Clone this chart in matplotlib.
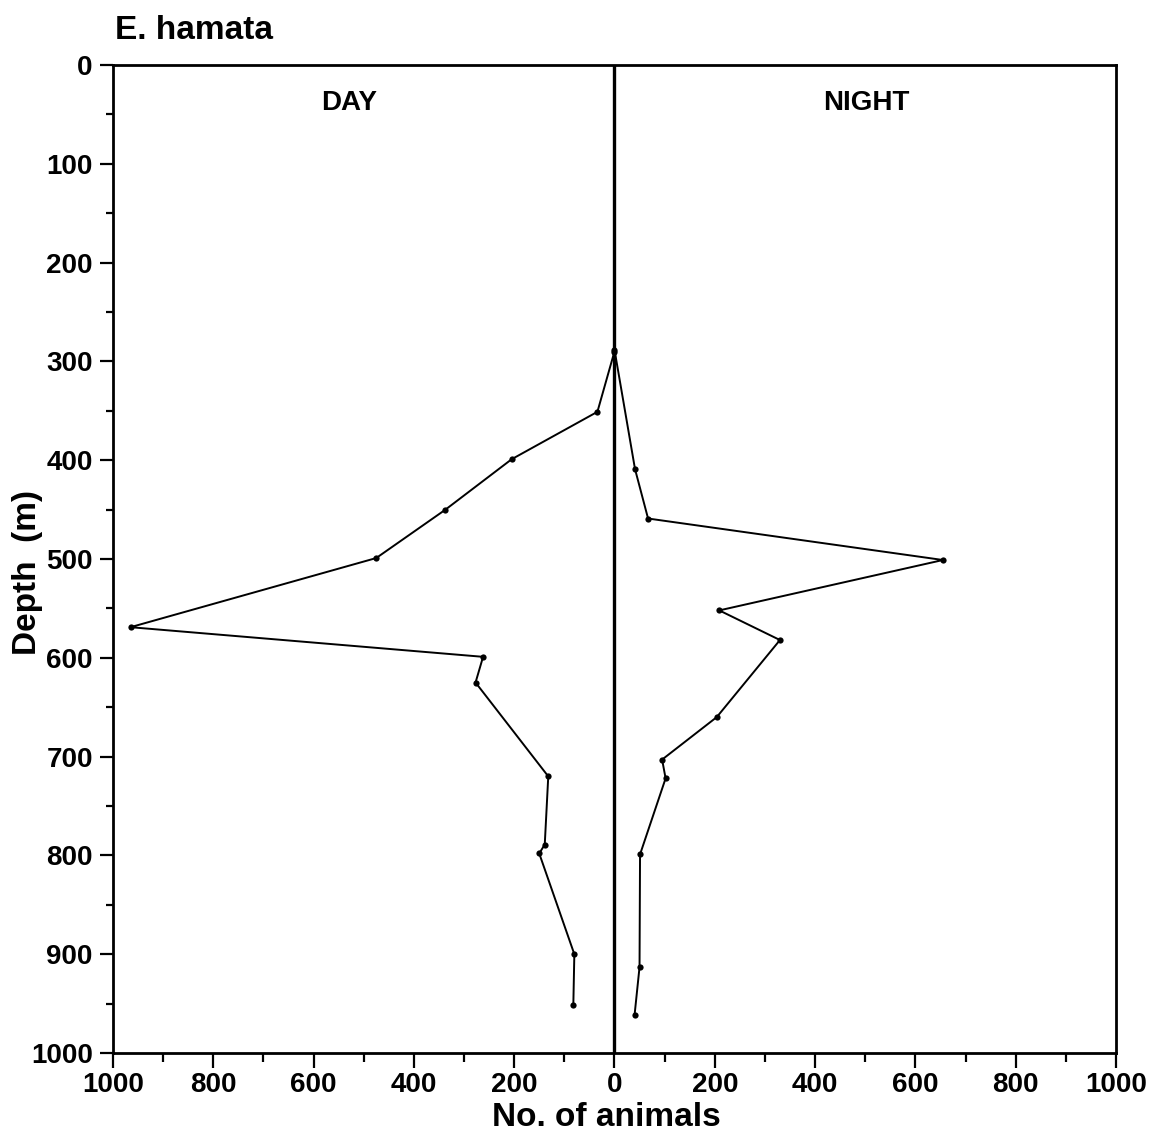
#!/usr/bin/env python3
# -*- coding: utf-8 -*-

import matplotlib
matplotlib.use('Agg')
import matplotlib.pyplot as plt
from matplotlib.ticker import MultipleLocator, FuncFormatter

# values (number of animals, depth in m)
day_count = [0, 34, 205, 337, 475, 965, 262, 277, 132, 139, 150, 80, 82]
day_depth = [290, 351, 399, 450, 499, 569, 599, 625, 720, 789, 798, 900, 951]
night_count = [0, 41, 67, 655, 209, 330, 204, 95, 102, 51, 50, 40]
night_depth = [288, 409, 459, 501, 552, 582, 660, 703, 722, 799, 913, 962]

species = 'E. hamata'
panel_names = ['DAY', 'NIGHT']
label_font = ['Liberation Sans', 'DejaVu Sans']


def abs_label(v, pos):
    return '{0}'.format(int(round(abs(v))))


def plot_profile(ax, counts, depths):
    ax.plot(counts, depths, color='k', linewidth=1.4,
            marker='o', markersize=4.5, markeredgewidth=0)


if __name__ == '__main__':
    fig = plt.figure(figsize=(11.55, 11.39), dpi=100)
    ax = fig.add_axes([0.0978, 0.0755, 0.8684, 0.8674])

    # day is drawn to the left of zero
    plot_profile(ax, [-c for c in day_count], day_depth)
    plot_profile(ax, night_count, night_depth)
    ax.axvline(0, color='k', linewidth=2.4, zorder=1)

    ax.set_xlim(-1000, 1000)
    ax.set_ylim(1000, 0)
    ax.xaxis.set_major_locator(MultipleLocator(200))
    ax.xaxis.set_minor_locator(MultipleLocator(100))
    ax.yaxis.set_major_locator(MultipleLocator(100))
    ax.yaxis.set_minor_locator(MultipleLocator(50))
    ax.xaxis.set_major_formatter(FuncFormatter(abs_label))

    for sp in ax.spines.values():
        sp.set_linewidth(2.0)
    ax.tick_params(axis='y', which='major', length=9.5, width=1.6,
                   direction='out', pad=5)
    ax.tick_params(axis='y', which='minor', length=5, width=1.6,
                   direction='out')
    ax.tick_params(axis='x', which='major', length=11, width=1.6,
                   direction='out', pad=3)
    ax.tick_params(axis='x', which='minor', length=6.5, width=1.6,
                   direction='out')
    for lab in ax.get_xticklabels() + ax.get_yticklabels():
        lab.set_family(label_font)
        lab.set_fontweight('bold')
        lab.set_fontsize(20)

    ax.text(0.235, 0.962, panel_names[0], transform=ax.transAxes,
            ha='center', va='center', fontsize=20, fontweight='bold',
            family=label_font)
    ax.text(0.751, 0.962, panel_names[1], transform=ax.transAxes,
            ha='center', va='center', fontsize=20, fontweight='bold',
            family=label_font)

    fig.text(0.0996, 0.9658, species, ha='left', va='baseline',
             fontsize=24, fontweight='bold', family=label_font)
    fig.text(0.0234, 0.497, 'Depth  (m)', rotation=90, ha='center',
             va='center', fontsize=24, fontweight='bold', family=label_font)
    fig.text(0.5247, 0.0114, 'No. of animals', ha='center', va='baseline',
             fontsize=24, fontweight='bold', family=label_font)

    fig.savefig('out.png', dpi=100, facecolor='white')
